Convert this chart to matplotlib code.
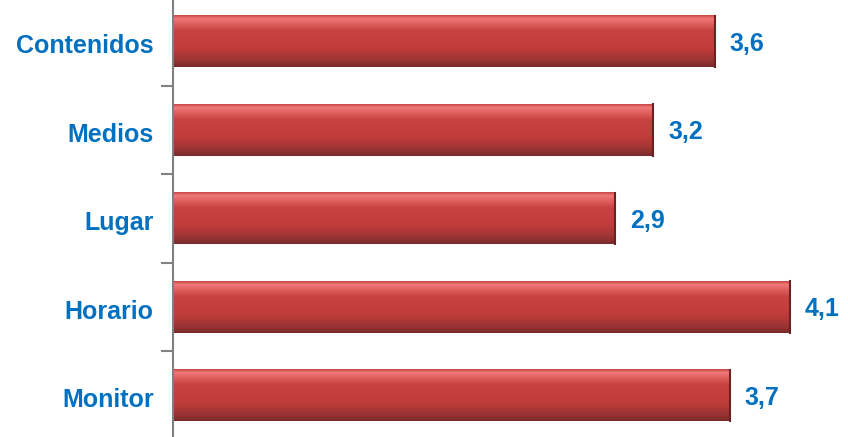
import numpy as np
import matplotlib
matplotlib.use("Agg")
import matplotlib.pyplot as plt
from matplotlib.colors import LinearSegmentedColormap
from matplotlib.transforms import offset_copy

categories = ["Contenidos", "Medios", "Lugar", "Horario", "Monitor"]
values = [3.6, 3.19, 2.94, 4.1, 3.7]
value_labels = ["3,6", "3,2", "2,9", "4,1", "3,7"]

W, H = 848, 437
fig = plt.figure(figsize=(W / 100, H / 100), dpi=100)
ax = fig.add_axes([173 / W, 0, 1 - 173 / W, 1])

n = len(categories)
ypos = np.arange(n)[::-1]  # Contenidos on top
bar_h = 0.585

label_blue = "#0070C0"
grad = LinearSegmentedColormap.from_list(
    "redbar",
    [(0.0, "#7a2a2a"), (0.12, "#9a3433"), (0.35, "#c03c3b"),
     (0.7, "#c84241"), (0.86, "#e26463"), (0.94, "#f07a79"), (1.0, "#c94848")])

val_tr = offset_copy(ax.transData, fig=fig, x=0, y=-1.5, units="points")
for y, v, lab in zip(ypos, values, value_labels):
    ax.barh(y, v, height=bar_h, color="#c0403f", edgecolor="none", zorder=2)
    g = np.linspace(0, 1, 64).reshape(-1, 1)
    ax.imshow(g, cmap=grad, origin="lower", aspect="auto",
              extent=(0, v, y - bar_h / 2, y + bar_h / 2), zorder=3,
              interpolation="bilinear")
    ax.plot([v, v], [y - bar_h / 2, y + bar_h / 2], color="#6a2222", lw=1.5, zorder=4)
    ax.text(v + 0.1, y, lab, va="center", ha="left", color=label_blue,
            fontsize=18, fontweight="bold", family="Liberation Sans",
            transform=val_tr)

ax.set_xlim(0, (W - 173) / 150.5)
ax.set_ylim(-0.469, 4.469)

ax.set_yticks(ypos)
ax.set_yticklabels(categories, color=label_blue, fontsize=18,
                   fontweight="bold", family="Liberation Sans")
ax.tick_params(axis="y", which="major", length=0, pad=14)
for t in ax.get_yticklabels():
    t.set_transform(t.get_transform() + matplotlib.transforms.ScaledTranslation(0, -1.5 / 72, fig.dpi_scale_trans))
ax.set_yticks(np.arange(n - 1) + 0.5, minor=True)
ax.tick_params(axis="y", which="minor", length=9, width=1.5, color="#808080")
ax.set_xticks([])

for s in ["top", "right", "bottom"]:
    ax.spines[s].set_visible(False)
ax.spines["left"].set_color("#808080")
ax.spines["left"].set_linewidth(1.5)
ax.spines["left"].set_zorder(5)

fig.savefig("out.png", dpi=100)
